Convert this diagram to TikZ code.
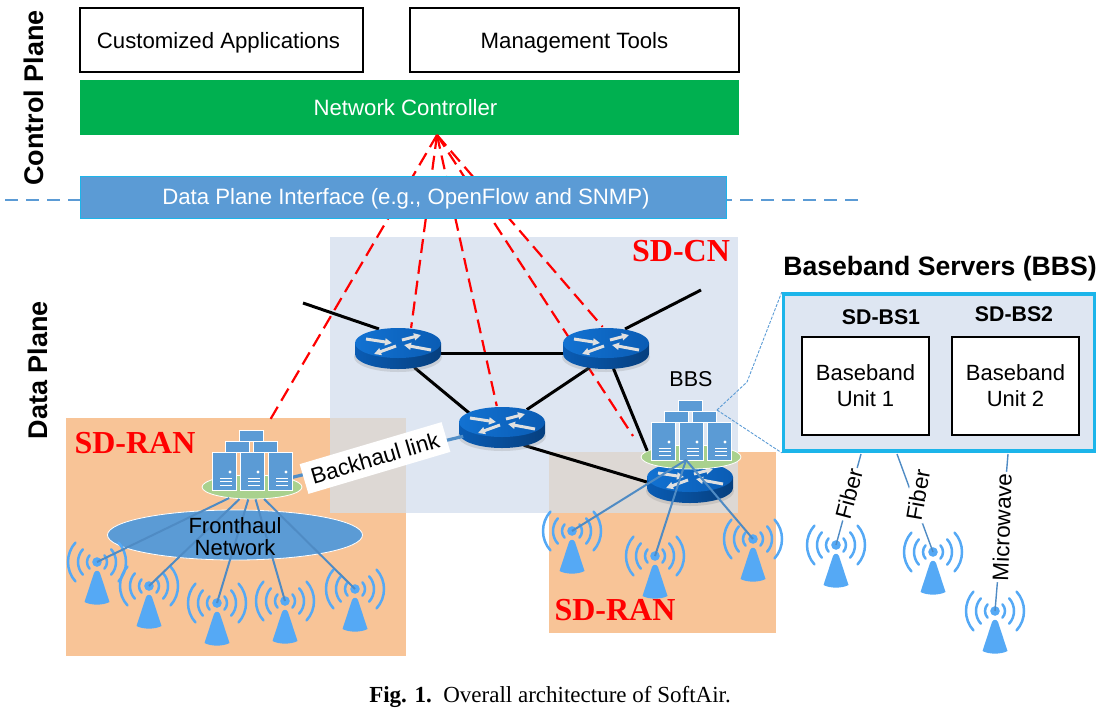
\documentclass[tikz,border=0pt]{standalone}
\usepackage{fontspec}
\setmainfont{Liberation Sans}
\newfontfamily\serifbold{Liberation Serif}[BoldFont={Liberation Serif Bold}]
\usetikzlibrary{shapes.geometric,arrows.meta}
\definecolor{cnfill}{HTML}{DEE6F2}
\definecolor{ranfill}{HTML}{F8C497}
\definecolor{mixfill}{HTML}{DDD8D4}
\definecolor{ctrlgreen}{HTML}{00B050}
\definecolor{planeblue}{HTML}{5B9BD5}
\definecolor{edgeblue}{HTML}{1CB5EA}
\definecolor{linkblue}{HTML}{4F8BC4}
\definecolor{antblue}{HTML}{55A9F5}
\definecolor{dishgreen}{HTML}{A9D18E}
\definecolor{routertop}{HTML}{1272D2}
\definecolor{routerside}{HTML}{0A5CB4}
\definecolor{routerdark}{HTML}{063F7E}
\begin{document}
\begin{tikzpicture}[>=stealth, x=1pt, y=-1pt]
  \tikzset{
    appbox/.style={draw, line width=1.6pt, fill=white, minimum height=64pt, font=\fontsize{22.2}{26}\selectfont},
    planebox/.style={minimum height=42pt, text=white, font=\fontsize{22.2}{26}\selectfont},
    unitbox/.style={draw, line width=2.2pt, fill=white, minimum width=127pt, minimum height=98pt, align=center, font=\fontsize{22}{26}\selectfont},
    sidelabel/.style={rotate=90, font=\bfseries\fontsize{27}{32}\selectfont},
    zonelabel/.style={text=red, font=\serifbold\bfseries\fontsize{32}{36}\selectfont},
    boldlabel/.style={font=\bfseries\fontsize{21.3}{25}\selectfont},
    medialabel/.style={fill=white, inner sep=1.5pt, font=\fontsize{22.5}{26}\selectfont},
    routernode/.style={ellipse, minimum width=86pt, minimum height=42pt, inner sep=0pt},
    dishnode/.style={ellipse, fill=dishgreen, draw=white, line width=0.8pt, minimum width=100pt, minimum height=24pt, inner sep=0pt},
    ctrlline/.style={red, line width=2.2pt, dash pattern=on 14pt off 7pt},
    fibreline/.style={linkblue, line width=2pt},
    wireline/.style={black, line width=3pt},
    zoomline/.style={planeblue, line width=0.9pt, dash pattern=on 3pt off 1.5pt},
    router/.pic={
      \fill[black!45, opacity=.25] (0,9) ellipse [x radius=44, y radius=15];
      \shade[left color=routerside, right color=routerdark] (-43,-5) -- (-43,6) .. controls (-43,14.3) and (-23.7,21) .. (0,21) .. controls (23.7,21) and (43,14.3) .. (43,6) -- (43,-5) -- cycle;
      \shade[left color=routertop, right color=routerside] (0,-5) ellipse [x radius=43, y radius=15];
      \foreach \xa/\ya/\xb/\yb in {-32/-9/-6/-5, 33/2/6/-3, 4/-8/23/-13, -2/-2/-24/6}
        \draw[white!88!black, line width=3pt, -{Triangle[width=7pt,length=7pt]}] (\xa,\ya) -- (\xb,\yb);
    },
    servers/.pic={
      \foreach \tx/\ty in {-13/-57, -27/-46, 1/-46}
        \draw[white, fill=planeblue, line width=0.8pt] (\tx,\ty) rectangle ++(24,11);
      \foreach \tx in {-40,-12,16} {
        \draw[white, fill=planeblue, line width=0.8pt] (\tx,-35) rectangle ++(24,38);
        \fill[white] (\tx+18,-15) circle [radius=1.6];
        \foreach \ty in {-9,-5.5,-2}
          \draw[white, line width=1pt] (\tx+8,\ty) -- (\tx+20,\ty);
      }
    },
    antenna/.pic={
      \fill[antblue] (0,0) circle [radius=4.8];
      \foreach \rr/\ang in {10/42, 19/42, 29/42} {
        \draw[antblue, line width=2.5pt, line cap=round] (-\ang:\rr) arc [start angle=-\ang, end angle=\ang, radius=\rr];
        \draw[antblue, line width=2.5pt, line cap=round] (180-\ang:\rr) arc [start angle=180-\ang, end angle=180+\ang, radius=\rr];
      }
      \fill[antblue] (-3,11) .. controls (-1.5,8) and (1.5,8) .. (3,11) -- (12.5,40) .. controls (6,43.5) and (-6,43.5) .. (-12.5,40) -- cycle;
    }
  }
  \useasboundingbox (0,0) rectangle (1105,713);

  % regions
  \fill[cnfill] (330,237) rectangle (738,513);
  \fill[ranfill] (66,418) rectangle (406,656);
  \fill[ranfill] (549,452) rectangle (776,633);
  \fill[mixfill] (330,418) rectangle (406,513);
  \fill[mixfill] (549,452) rectangle (738,513);
  \node[zonelabel] (cnname) at (681,251) {SD-CN};
  \node[zonelabel] (ranone) at (135,443) {SD-RAN};
  \node[zonelabel] (rantwo) at (615,610) {SD-RAN};

  % control plane
  \node[appbox, minimum width=283pt] (apps) at (221.5,40) {\rule{0pt}{22pt}Customized Applications\kern6pt};
  \node[appbox, minimum width=329pt] (tools) at (574.5,40) {\rule{0pt}{22pt}Management Tools};
  \node[planebox, fill=ctrlgreen, minimum width=659pt, minimum height=55pt] (ctrl) at (409.5,107.5) {Network Controller\kern8pt};
  \node[sidelabel] (ctrlname) at (34,98) {Control Plane};
  \node[sidelabel] (dataname) at (38,370) {Data Plane};

  \coordinate (ctl) at (437,135);
  \coordinate (splitl) at (5,200);
  \coordinate (splitr) at (861,200);
  \coordinate (serveraup) at (270,420);
  \coordinate (serverbup) at (633,436);
  \coordinate (stubl) at (303,303);
  \coordinate (stubr) at (701,290);

  \node[routernode] (r1) at (398,348) {};
  \node[routernode] (r2) at (606,348) {};
  \node[routernode] (r3) at (502,427) {};
  \node[routernode] (r4) at (690,482) {};

  \draw[planeblue, line width=1.6pt, dash pattern=on 13pt off 8pt] (splitl) -- (splitr);
  \draw[ctrlline] (ctl) -- (serveraup);
  \draw[ctrlline] (ctl) -- (r1.57);
  \draw[ctrlline] (ctl) -- (r3.104);
  \draw[ctrlline] (ctl) -- (serverbup);
  \draw[ctrlline] (ctl) -- (r2.99);
  \node[planebox, fill=planeblue, draw=edgeblue, line width=1pt, minimum width=646pt] (dpi) at (403,197) {\rule{0pt}{20pt}\hspace*{6pt}Data Plane Interface (e.g., OpenFlow and SNMP)};

  % core network
  \draw[wireline] (stubl) -- (r1.135);
  \draw[wireline] (stubr) -- (r2.45);
  \draw[wireline] (r1.-8) -- (r2.188);
  \draw[wireline] (r1.-50) -- (r3.157);
  \draw[wireline] (r2.-130) -- (r3.35);
  \draw[wireline] (r3.-40) -- (r4.west);
  \foreach \name in {r1,r2,r3,r4}
    \pic at (\name) {router};

  % first radio network
  \node[ellipse, fill=planeblue, draw=white, line width=0.8pt, minimum width=255pt, minimum height=50pt, inner sep=0pt] (front) at (235,535) {};
  \node[dishnode] (bbsa) at (252,487) {};
  \draw[linkblue!80!planeblue, line width=3.2pt] (bbsa) -- (r3);
  \foreach \name/\x/\y in {a1/97/562, a2/149/586, a3/217/603, a4/285/601, a5/355/589} {
    \coordinate (\name) at (\x,\y);
    \pic at (\name) {antenna};
    \draw[fibreline] (bbsa) -- (\name);
  }
  \node[align=center, font=\fontsize{22}{22}\selectfont] (fronttext) at (235,537) {Fronthaul\\Network};
  \pic at (bbsa) {servers};
  \node[fill=white, rotate=16.5, minimum width=148pt, minimum height=31pt, inner sep=0pt, font=\fontsize{22.5}{26}\selectfont] (backhaul) at (375,458) {Backhaul link};

  % second radio network
  \node[dishnode] (bbsb) at (691,457) {};
  \draw[wireline] (r2.-70) -- (bbsb.172);
  \pic at (bbsb) {servers};
  \node[font=\fontsize{21.5}{25}\selectfont] (bbsname) at (691,379) {BBS};
  \coordinate (bbstip) at (686,460);
  \foreach \name/\x/\y in {a6/572/531, a7/655/556, a8/753/539} {
    \coordinate (\name) at (\x,\y);
    \pic at (\name) {antenna};
    \draw[fibreline] (bbstip) -- (\name);
  }

  % baseband servers
  \node[draw=edgeblue, fill=cnfill, line width=3.6pt, minimum width=311pt, minimum height=157pt, inner sep=0pt] (bbsbox) at (939,372.5) {};
  \node[font=\bfseries\fontsize{26.6}{31}\selectfont] (bbstitle) at (940,269) {Baseband Servers (BBS)};
  \node[boldlabel] (bsone) at (881,317) {SD-BS1};
  \node[boldlabel] (bstwo) at (1014,314) {SD-BS2};
  \node[unitbox] (unitone) at (865.5,386) {Baseband\\Unit 1};
  \node[unitbox] (unittwo) at (1015.5,386) {Baseband\\Unit 2};
  \coordinate (zoomfrom) at (717,410);
  \coordinate (zoomknee) at (747,382);
  \draw[zoomline] (zoomfrom) -- (zoomknee) -- (bbsbox.north west);
  \draw[zoomline] (zoomfrom) -- (bbsbox.south west);

  \foreach \name/\x/\y in {a9/836/545, a10/933/552, a11/995/611} {
    \coordinate (\name) at (\x,\y);
    \pic at (\name) {antenna};
  }
  \coordinate (fibreone) at (861,454);
  \coordinate (fibretwo) at (897,454);
  \coordinate (micro) at (1008,454);
  \draw[fibreline, line width=1.4pt] (fibreone) -- (a9);
  \draw[fibreline, line width=1.4pt] (fibretwo) -- (a10);
  \draw[fibreline, line width=1.4pt] (micro) -- (a11);
  \node[medialabel, rotate=75] (fibrea) at (849,494) {Fiber};
  \node[medialabel, rotate=80] (fibreb) at (918,495) {Fiber};
  \node[medialabel, rotate=88] (microwave) at (1002,527) {Microwave};

  % caption
  \node[font=\serifbold\fontsize{23}{27}\selectfont] (caption) at (550,697) {\textbf{Fig. 1.}\enspace Overall architecture of SoftAir.};
\end{tikzpicture}
\end{document}
